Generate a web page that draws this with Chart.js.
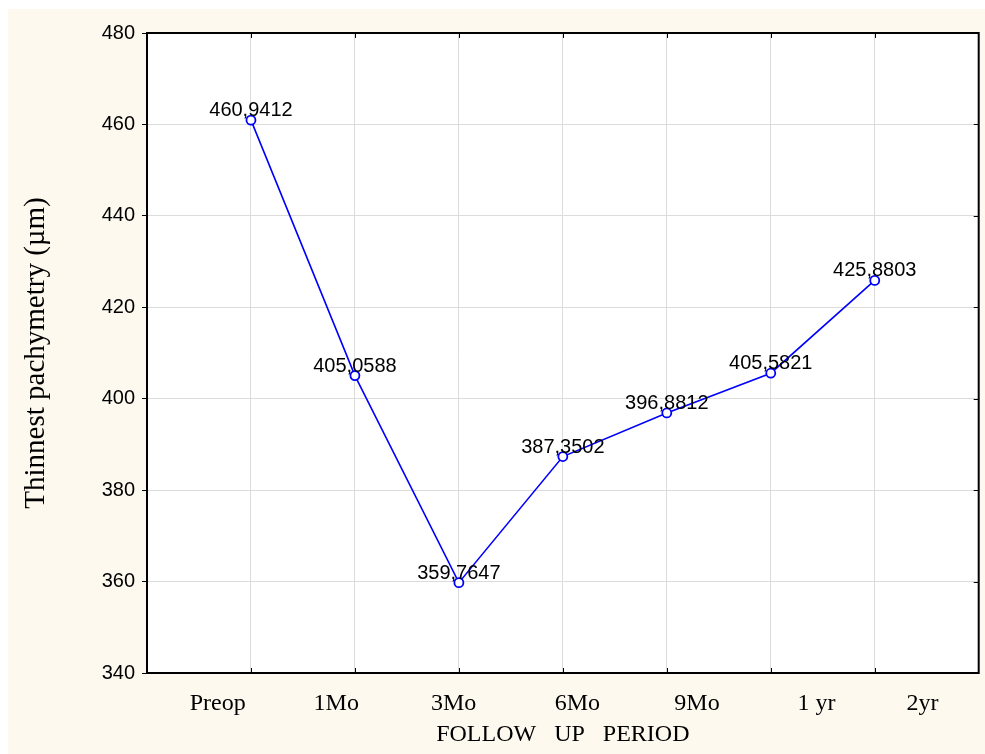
<!DOCTYPE html>
<html>
<head>
<meta charset="utf-8">
<script src="https://cdn.jsdelivr.net/npm/chart.js@4/dist/chart.umd.min.js"></script>
<style>
  html, body { margin: 0; padding: 0; background: #ffffff; }
  canvas { display: block; }
</style>
</head>
<body>
<canvas id="pachyChart" width="985" height="754"></canvas>
<script>
const periods = ['Preop', '1Mo', '3Mo', '6Mo', '9Mo', '1 yr', '2yr'];
const pointX = [1, 2, 3, 4, 5, 6, 7];
const thinnest = [460.9412, 405.0588, 359.7647, 387.3502, 396.8812, 405.5821, 425.8803];
// the original prints its category labels a bit off the grid lines
const periodLabelX = [0.68, 1.82, 2.95, 4.14, 5.29, 6.44, 7.46];
const yTicks = [340, 360, 380, 400, 420, 440, 460, 480];

const frame = {
  id: 'frame',
  beforeDraw(chart) {
    const ctx = chart.ctx;
    const a = chart.chartArea;
    ctx.save();
    ctx.fillStyle = '#ffffff';
    ctx.fillRect(0, 0, chart.width, chart.height);
    ctx.fillStyle = '#fdf9ef';
    ctx.fillRect(8, 9, chart.width - 8, chart.height - 9);
    ctx.fillStyle = '#ffffff';
    ctx.fillRect(a.left, a.top, a.right - a.left, a.bottom - a.top);
    ctx.restore();
  },
  afterDatasetsDraw(chart) {
    const ctx = chart.ctx;
    const a = chart.chartArea;
    const xs = chart.scales.x;
    const ys = chart.scales.y;
    ctx.save();
    ctx.strokeStyle = '#000000';
    ctx.lineWidth = 1;
    ctx.beginPath();
    pointX.forEach(v => {
      const px = Math.round(xs.getPixelForValue(v)) + 0.5;
      ctx.moveTo(px, a.bottom); ctx.lineTo(px, a.bottom - 5);
      ctx.moveTo(px, a.top); ctx.lineTo(px, a.top + 5);
    });
    yTicks.forEach(v => {
      const py = Math.round(ys.getPixelForValue(v)) + 0.5;
      ctx.moveTo(a.right, py); ctx.lineTo(a.right - 5, py);
    });
    ctx.stroke();
    ctx.lineWidth = 2;
    ctx.strokeRect(a.left, a.top, a.right - a.left, a.bottom - a.top);

    // value labels
    ctx.fillStyle = '#000000';
    ctx.font = '20px "Liberation Sans", Arial, sans-serif';
    ctx.textAlign = 'center';
    ctx.textBaseline = 'alphabetic';
    const meta = chart.getDatasetMeta(0);
    meta.data.forEach((pt, i) => {
      const txt = thinnest[i].toFixed(4).replace('.', ',');
      ctx.fillText(txt, pt.x, pt.y - 4);
    });
    ctx.restore();
  }
};

const ctx = document.getElementById('pachyChart').getContext('2d');
new Chart(ctx, {
  type: 'line',
  data: {
    datasets: [{
      label: 'Thinnest pachymetry',
      data: pointX.map((x, i) => ({ x: x, y: thinnest[i] })),
      borderColor: '#0000ff',
      borderWidth: 1.6,
      pointRadius: 4.5,
      pointBorderWidth: 1.8,
      pointBorderColor: '#0000ff',
      pointBackgroundColor: '#ffffff',
      tension: 0
    }]
  },
  options: {
    responsive: false,
    animation: false,
    layout: { padding: { top: 33, right: 4, left: 0, bottom: 0 } },
    plugins: {
      legend: { display: false },
      tooltip: { enabled: false }
    },
    scales: {
      x: {
        type: 'linear',
        position: 'bottom',
        weight: 0,
        min: 0,
        max: 8,
        afterBuildTicks: axis => { axis.ticks = pointX.map(v => ({ value: v })); },
        afterFit: axis => { axis.height = 0; },
        ticks: { display: false },
        grid: { color: '#dcdcdc', drawTicks: false },
        border: { display: true, color: '#000000', width: 2 }
      },
      xl: {
        type: 'linear',
        position: 'bottom',
        weight: 1,
        min: 0,
        max: 8,
        afterBuildTicks: axis => { axis.ticks = periodLabelX.map(v => ({ value: v })); },
        afterFit: axis => { axis.height = 81; },
        grid: { display: false, drawTicks: false },
        border: { display: false },
        ticks: {
          autoSkip: false,
          maxRotation: 0,
          padding: 16,
          color: '#000000',
          font: { family: '"Liberation Serif", "Times New Roman", serif', size: 24 },
          callback: (v, i) => periods[i]
        },
        title: {
          display: true,
          text: 'FOLLOW   UP   PERIOD',
          color: '#000000',
          font: { family: '"Liberation Serif", "Times New Roman", serif', size: 24 },
          padding: { top: 0, bottom: 5 }
        }
      },
      y: {
        min: 340,
        max: 480,
        afterBuildTicks: axis => { axis.ticks = yTicks.map(v => ({ value: v })); },
        afterFit: axis => { axis.width = 147; },
        grid: { color: '#dcdcdc', tickColor: '#000000', tickLength: 5 },
        border: { display: true, color: '#000000', width: 2 },
        ticks: {
          padding: 7,
          color: '#000000',
          font: { family: '"Liberation Sans", Arial, sans-serif', size: 20 }
        },
        title: {
          display: true,
          text: 'Thinnest pachymetry (µm)',
          color: '#000000',
          font: { family: '"Liberation Serif", "Times New Roman", serif', size: 29 },
          padding: { top: 19, bottom: 0 }
        }
      }
    }
  },
  plugins: [frame]
});
</script>
</body>
</html>
